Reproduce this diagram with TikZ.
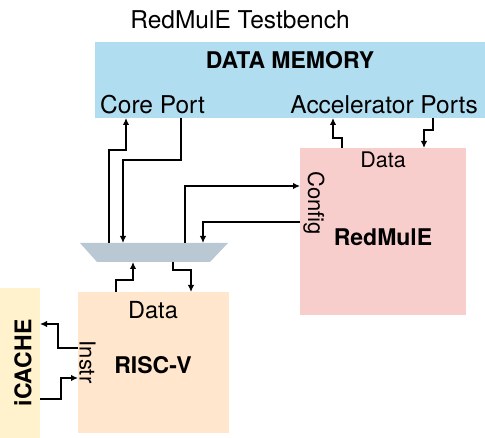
\documentclass[tikz,border=0pt]{standalone}
\usepackage{fontspec}
\setmainfont{TeX Gyre Heros}
\usetikzlibrary{arrows.meta}
\definecolor{memc}{HTML}{B1DDF0}
\definecolor{redc}{HTML}{F8CECC}
\definecolor{riscc}{HTML}{FFE6CC}
\definecolor{cachec}{HTML}{FFF2CC}
\definecolor{muxc}{HTML}{BAC8D3}
\tikzset{
  blk/.style={inner sep=0pt, outer sep=0pt, draw=none},
  lbl/.style={inner sep=0pt, font=\fontsize{22}{26}\selectfont},
  biglbl/.style={inner sep=0pt, font=\fontsize{24.5}{28}\selectfont},
  blbl/.style={inner sep=0pt, font=\fontsize{23}{27}\selectfont\bfseries},
  conn/.style={line width=1.5pt, -{Latex[length=7pt,width=6.5pt]}},
}
\begin{document}
\begin{tikzpicture}[x=1pt,y=-1pt]
\useasboundingbox (0,0) rectangle (485,438);
% blocks
\node[blk, fill=memc, minimum width=390pt, minimum height=76pt] (mem) at (290,80) {};
\node[blk, fill=redc, minimum width=166pt, minimum height=167pt] (red) at (383,231.5) {};
\node[blk, fill=riscc, minimum width=151pt, minimum height=141pt] (risc) at (153.5,362.5) {};
\node[blk, fill=cachec, minimum width=40pt, minimum height=150pt] (icache) at (20,363) {};
\node[blk, minimum width=148pt, minimum height=19pt] (mux) at (154,252.5) {};
\fill[muxc] (mux.north west) -- (mux.north east) -- ([xshift=-18pt]mux.south east) -- ([xshift=17pt]mux.south west) -- cycle;
% texts
\node[biglbl] (title) at (240,20) {RedMulE Testbench};
\node[blbl] (memt) at (290,60) {DATA MEMORY};
\node[biglbl, anchor=west] (coreport) at (100,105) {Core Port};
\node[biglbl, anchor=east] (accports) at (478,105) {Accelerator Ports};
\node[lbl, font=\fontsize{21.5}{26}\selectfont] (reddata) at (383,160) {Data};
\node[lbl, rotate=-90] (config) at (314,203) {Config};
\node[blbl] (redname) at (383,237) {RedMulE};
\node[lbl, font=\fontsize{23.5}{27}\selectfont] (riscdata) at (153,310) {Data};
\node[lbl, rotate=-90] (instr) at (87.5,362) {Instr};
\node[blbl] (riscname) at (153,365) {RISC-V};
\node[blbl, rotate=90] (icachet) at (23,363) {iCACHE};
% connectors: core port <-> mux
\draw[conn] (109,243) -- (109,150) -- (126,150) -- (126,150 |- mem.south);
\draw[conn] (181,118) -- (181,160) -- (123,160) -- (123,160 |- mux.north);
% mux <-> RedMulE config
\draw[conn] (185,243) -- (185,186) -- (185,186 -| red.west);
\draw[conn] (300,222) -- (203,222) -- (203,222 |- mux.north);
% mux <-> RISC-V
\draw[conn] (116,292) -- (116,280) -- (133,280) -- (133,280 |- mux.south);
\draw[conn] (173,262) -- (173,270) -- (191,270) -- (191,270 |- risc.north);
% RedMulE <-> accelerator ports
\draw[conn] (342,148) -- (342,138) -- (333,138) -- (333,138 |- mem.south);
\draw[conn] (433,118) -- (433,130) -- (424,130) -- (424,130 |- red.north);
% RISC-V <-> iCACHE
\draw[conn] (78,348) -- (58,348) -- (58,324) -- (58,324 -| icache.east);
\draw[conn] (40,399) -- (61,399) -- (61,378) -- (61,378 -| risc.west);
\end{tikzpicture}
\end{document}
